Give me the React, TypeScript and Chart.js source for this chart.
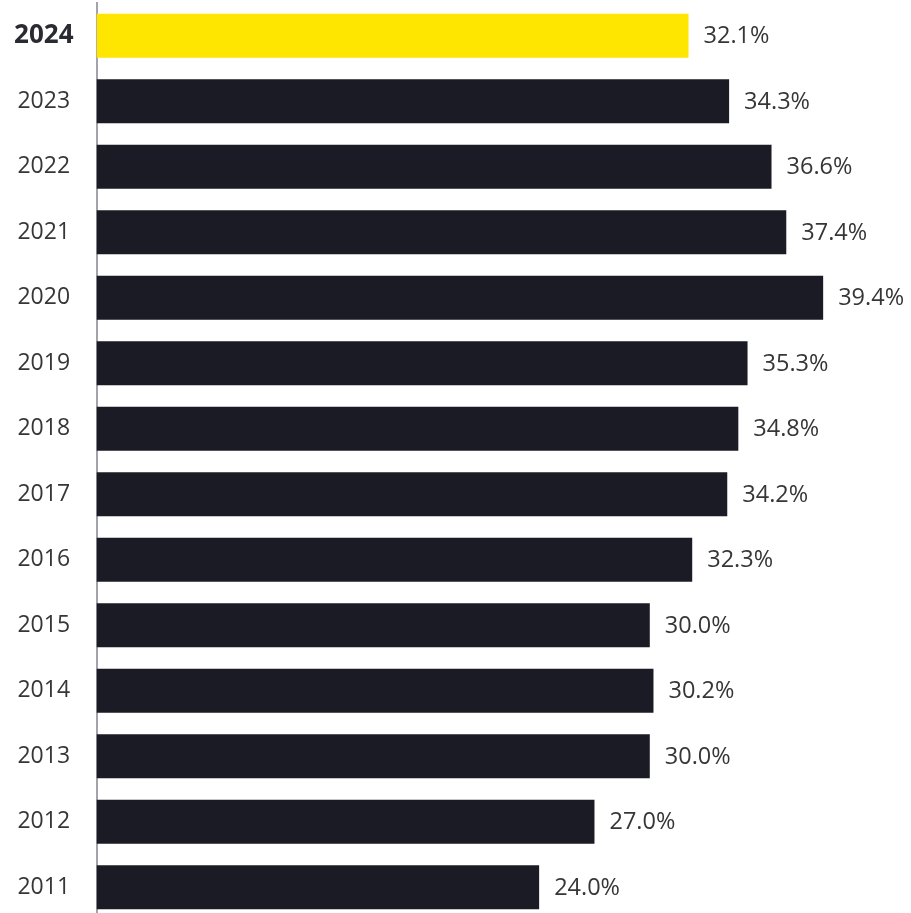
import React, { useEffect, useRef } from "react";
import { Chart, registerables } from "chart.js";

Chart.register(...registerables);

const years = ["2024", "2023", "2022", "2021", "2020", "2019", "2018", "2017", "2016", "2015", "2014", "2013", "2012", "2011"];
const values = [32.1, 34.3, 36.6, 37.4, 39.4, 35.3, 34.8, 34.2, 32.3, 30.0, 30.2, 30.0, 27.0, 24.0];
const highlightYear = "2024";

const DARK = "#1b1b25";
const YELLOW = "#ffe600";
const TEXT = "#363636";
const FONT = "'Open Sans', 'Noto Sans', sans-serif";

const valueLabels = {
  id: "valueLabels",
  afterDatasetsDraw(chart: any) {
    const ctx = chart.ctx;
    const meta = chart.getDatasetMeta(0);
    ctx.save();
    ctx.font = `23.5px ${FONT}`;
    ctx.fillStyle = TEXT;
    ctx.textAlign = "left";
    ctx.textBaseline = "middle";
    meta.data.forEach((bar: any, i: number) => {
      const v = values[i];
      ctx.fillText(v.toFixed(1) + "%", bar.x + 15, bar.y + 1);
    });
    ctx.restore();
  },
};

export default function App() {
  const ref = useRef<HTMLCanvasElement>(null);
  useEffect(() => {
    if (!ref.current) return;
    const chart = new Chart(ref.current, {
      type: "bar",
      data: {
        labels: years,
        datasets: [
          {
            data: values,
            backgroundColor: years.map((y) => (y === highlightYear ? YELLOW : DARK)),
            borderWidth: 0,
            barPercentage: 0.67,
            categoryPercentage: 1,
          },
        ],
      },
      options: {
        indexAxis: "y",
        animation: false,
        responsive: false,
        devicePixelRatio: 1,
        layout: { padding: { top: 3, right: 3, bottom: 0, left: 0 } },
        plugins: { legend: { display: false }, tooltip: { enabled: false } },
        scales: {
          x: { display: false, min: 0, max: 44 },
          y: {
            afterFit: (s: any) => {
              s.width = 96.5;
              s.paddingTop = 0;
              s.paddingBottom = 0;
            },
            grid: { display: false, drawTicks: false },
            border: { display: true, color: "#a3a3ab", width: 2 },
            ticks: {
              crossAlign: "center",
              padding: 23,
              color: (c: any) => (c.index === 0 ? "#2a2a33" : TEXT),
              font: (c: any) => ({
                family: FONT,
                size: c.index === 0 ? 26 : 23,
                weight: c.index === 0 ? "bold" : "normal",
              }),
            },
          },
        },
      },
      plugins: [valueLabels],
    });
    return () => chart.destroy();
  }, []);
  return (
    <div style={{ position: "absolute", left: 0, top: 0, width: 911, height: 913, overflow: "hidden", background: "#fff" }}>
      <canvas ref={ref} width={911} height={920} style={{ width: 911, height: 920, display: "block" }} />
    </div>
  );
}
